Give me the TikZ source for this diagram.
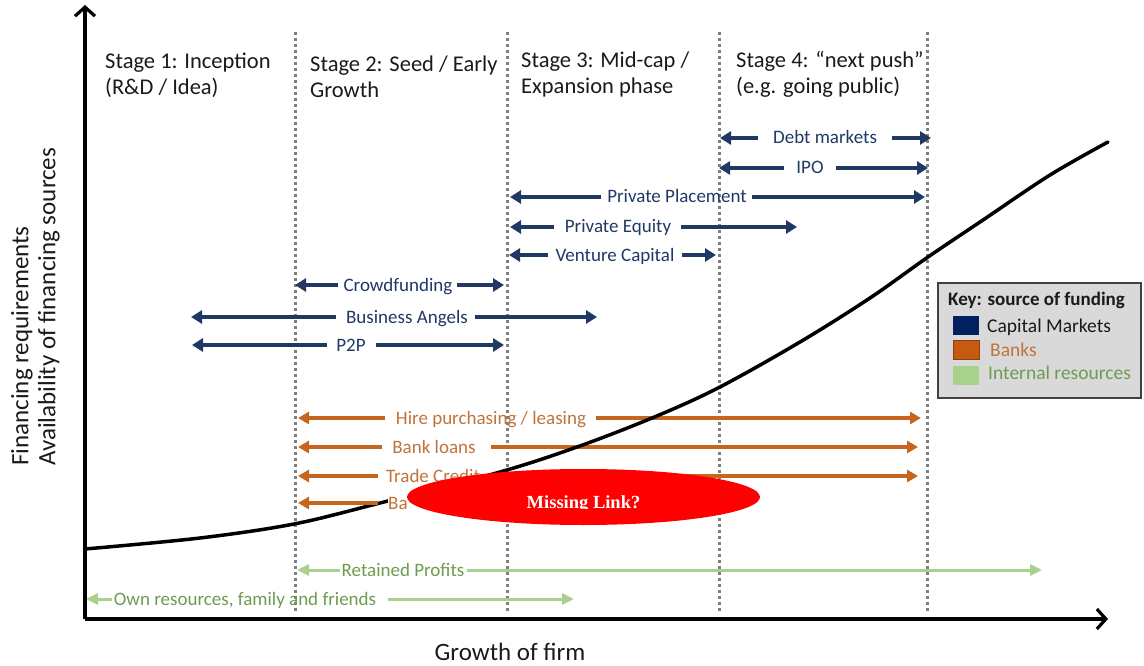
\documentclass[tikz,border=0pt]{standalone}
\usepackage{fontspec}
\setmainfont{Carlito}
\newfontfamily\mlfont{Liberation Serif}
\usetikzlibrary{arrows.meta,shapes.geometric}
\definecolor{navy}{HTML}{1F3864}
\definecolor{bankor}{HTML}{C5651E}
\definecolor{banktext}{HTML}{C0733A}
\definecolor{intgreen}{HTML}{A9D18E}
\definecolor{inttext}{HTML}{6E9B50}
\definecolor{keyblue}{HTML}{002060}
\definecolor{keyorange}{HTML}{C55A11}
\definecolor{keygray}{HTML}{D9D9D9}
\definecolor{dotgray}{HTML}{7F7F7F}
\definecolor{inkblack}{HTML}{1A1A1A}
\tikzset{
  navy arrow/.style={draw=navy, line width=3.8pt, -{Triangle[length=11pt,width=13pt]}},
  navy text/.style={text=navy, font=\fontsize{19}{22}\selectfont, inner sep=0pt, text height=12pt, text depth=0pt},
  bank arrow/.style={draw=bankor, line width=3.6pt, -{Triangle[length=11pt,width=12pt]}},
  bank text/.style={text=banktext, font=\fontsize{19}{22}\selectfont, inner sep=0pt, text height=12pt, text depth=0pt},
  int arrow/.style={draw=intgreen, line width=3pt, -{Triangle[length=12pt,width=11pt]}},
  int text/.style={text=inttext, font=\fontsize{19}{22}\selectfont, inner sep=0pt, text height=12pt, text depth=0pt},
  stageline/.style={draw=dotgray, line width=3pt, dash pattern=on 3pt off 3pt},
  axisline/.style={draw=black, line width=3.2pt, -{Straight Barb[length=9pt,width=20pt]}},
  stagelabel/.style={text=inkblack, font=\fontsize{22.5}{26.5}\selectfont, align=left, inner sep=0pt, anchor=base west},
  swatch/.style={minimum width=26pt, minimum height=19pt, inner sep=0pt},
  keytext/.style={font=\fontsize{19.5}{22}\selectfont, inner sep=0pt, anchor=base west},
}
\newcommand\finarrow[9]{%
  \coordinate (#1L) at (#4,#3);
  \coordinate (#1R) at (#5,#3);
  \node[#2 text] (#1) at (#6,#3) {#9};
  \draw[#2 arrow] ([xshift=-#7pt]#1.west) -- (#1L);
  \draw[#2 arrow] ([xshift=#8pt]#1.east) -- (#1R);
}
\begin{document}
\begin{tikzpicture}[x=1pt,y=-1pt]
\useasboundingbox (0,0) rectangle (1144,666);
% stage separators
\foreach \x/\n in {295/a,507/b,719/c,927/d}{
  \coordinate (top\n) at (\x,32);
  \coordinate (bot\n) at (\x,612);
  \draw[stageline] (top\n) -- (bot\n);
}
% stage labels (base = baseline of the second line)
\node[stagelabel] (s1) at (105,95) {Stage 1: Inception\\(R\&D / Idea)};
\node[stagelabel] (s2) at (310,98) {Stage 2: Seed / Early\\Growth};
\node[stagelabel] (s3) at (521,94) {Stage 3: Mid-cap /\\Expansion phase};
\node[stagelabel] (s4) at (736,94) {Stage 4: “next push”\\(e.g. going public)};
% capital markets
\finarrow{debt}{navy}{138}{720}{931}{825}{15}{15}{Debt markets}
\finarrow{ipo}{navy}{168}{719}{928}{810}{12}{12}{IPO}
\finarrow{pp}{navy}{197}{510}{925}{677}{6}{5}{Private Placement}
\finarrow{pe}{navy}{227}{510}{797}{618}{11}{10}{Private Equity}
\finarrow{vc}{navy}{255}{509}{716}{615}{7}{7}{Venture Capital}
\finarrow{crowd}{navy}{285}{295}{504}{398}{5}{4}{Crowdfunding}
\finarrow{angels}{navy}{317}{191}{597}{407}{10}{7}{Business Angels}
\finarrow{ptp}{navy}{345}{192}{504}{351}{9}{10}{P2P}
% banks
\finarrow{hire}{bank}{418}{298}{921}{491}{11}{10}{Hire purchasing / leasing}
\finarrow{loans}{bank}{447}{298}{918}{434}{10}{15}{Bank loans}
\finarrow{trade}{bank}{476}{298}{918}{433}{8}{10}{Trade Credit}
% internal resources
\finarrow{rp}{int}{570}{297}{1042}{403}{1}{2}{Retained Profits}
\finarrow{own}{int}{599}{86}{574}{245}{2}{12}{Own resources, family and friends}
% axes
\coordinate (O) at (85,619);
\coordinate (ytop) at (85,5);
\coordinate (xend) at (1108,619);
\draw[axisline] (O) -- (ytop);
\draw[axisline] (O) -- (xend);
% requirement curve
\draw[line width=3.5pt, line cap=round] plot[smooth, tension=0.55] coordinates {
 (85,549) (200,538) (294,524) (380,503) (500,472) (577,447) (652,418)
 (718,388) (800,342) (870,298) (928,257) (983,220) (1050,175) (1108,142)};
% bank overdraft arrow (partly hidden)
\coordinate (odL) at (298,503);
\node[bank text, anchor=west, fill=white, inner ysep=3pt] (od) at (388,503) {Ba};
\draw[bank arrow] ([xshift=-10pt]od.west) -- (odL);
% missing link
\node[ellipse, fill=red, minimum width=353pt, minimum height=56pt, inner sep=0pt] (ml) at (583.5,497) {};
\begin{scope}
  \clip (400,480) rectangle (770,508);
  \node[text=white, font=\mlfont\bfseries\fontsize{18.5}{20}\selectfont, anchor=base, inner sep=0pt] (mltext) at (583.5,508) {Missing Link?};
\end{scope}
% key
\node[draw=black!75, line width=1.8pt, fill=keygray, minimum width=203pt, minimum height=115pt, anchor=north west, inner sep=0pt] (key) at (937,282) {};
\node[font=\bfseries\fontsize{19}{22}\selectfont, inner sep=0pt, anchor=base west, text=inkblack] (keytitle) at (948,305) {Key: source of funding};
\node[swatch, fill=keyblue] (sw1) at (966,325.5) {};
\node[swatch, fill=keyorange, draw=keyorange!70!black, line width=0.6pt] (sw2) at (966,350) {};
\node[swatch, fill=intgreen] (sw3) at (966,375) {};
\node[keytext, text=inkblack] (k1) at (987,332) {Capital Markets};
\node[keytext, text=banktext] (k2) at (990,356) {Banks};
\node[keytext, text=inttext] (k3) at (988,379) {Internal resources};
% axis titles
\node[rotate=90, align=left, anchor=north west, inner sep=0pt, text=inkblack, font=\fontsize{25}{27}\selectfont] (ylab) at (11,466) {Financing requirements\\Availability of financing sources};
\node[text=inkblack, font=\fontsize{25}{28}\selectfont, inner sep=0pt] (xlab) at (510,652) {Growth of firm};
\end{tikzpicture}
\end{document}
